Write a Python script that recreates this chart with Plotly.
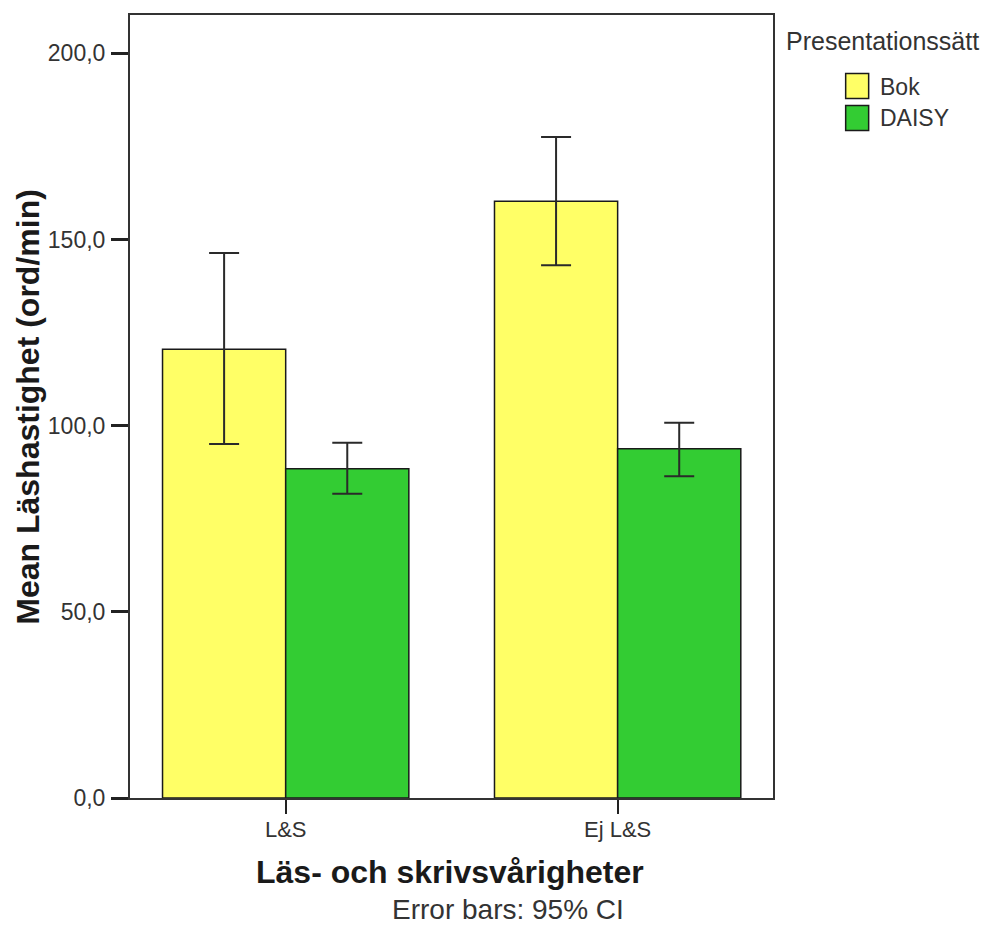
import plotly.graph_objects as go

categories = ["L&S", "Ej L&S"]
series_names = ["Bok", "DAISY"]
bok_mean = [120.5, 160.3]
bok_upper = [146.4, 177.5]
bok_lower = [95.1, 143.1]
daisy_mean = [88.4, 93.8]
daisy_upper = [95.4, 100.8]
daisy_lower = [81.7, 86.4]
y_ticks = [0, 50, 100, 150, 200]

colors = ["#FFFF66", "#33CC33"]
W, H = 1000, 930
OFF = 8  # page body margin in the screenshot
# plot area in screen pixels
L, R, T, B = 130, 773.3, 13.3, 798.3
pw, ph = R - L, B - T


def px(x):
    return (x - L) / pw


def py(y):
    return (B - y) / ph


pos = list(range(len(categories)))
fig = go.Figure()
for name, mean, up, lo, col in [
    (series_names[0], bok_mean, bok_upper, bok_lower, colors[0]),
    (series_names[1], daisy_mean, daisy_upper, daisy_lower, colors[1]),
]:
    fig.add_trace(go.Bar(
        x=pos, y=mean, name=name, showlegend=False,
        marker=dict(color=col, line=dict(color="#1a1a1a", width=1.5)),
        error_y=dict(type="data", symmetric=False,
                     array=[u - m for u, m in zip(up, mean)],
                     arrayminus=[m - l for m, l in zip(mean, lo)],
                     color="#2a2a2a", thickness=2, width=15),
    ))

font_family = "Liberation Sans, Arial, sans-serif"
fig.update_layout(
    width=W, height=H,
    margin=dict(l=L - OFF, r=W - (R - OFF), t=T - OFF, b=H - (B - OFF), pad=0),
    paper_bgcolor="white", plot_bgcolor="white",
    barmode="group", bargap=0.258, bargroupgap=0,
    separators=",.",
    font=dict(family=font_family, color="#222222"),
    showlegend=False,
    xaxis=dict(
        range=[-0.469, 1.468], tickvals=pos, ticktext=categories,
        showgrid=False, zeroline=False,
        showline=True, mirror=True, linecolor="#333333", linewidth=2,
        ticks="outside", ticklen=14, tickwidth=2, tickcolor="#222222",
        tickfont=dict(size=22, color="#333333"), ticklabelstandoff=-3,
    ),
    yaxis=dict(
        range=[0, 210.3], tickvals=y_ticks, tickformat=".1f",
        showgrid=False, zeroline=False,
        showline=True, mirror=True, linecolor="#333333", linewidth=2,
        ticks="outside", ticklen=17, tickwidth=3, tickcolor="#222222",
        tickfont=dict(size=23, color="#333333"), ticklabelstandoff=1,
    ),
)

# axis titles
fig.add_annotation(x=px(450), y=py(872), xref="paper", yref="paper",
                   text="<b>Läs- och skrivsvårigheter</b>", showarrow=False,
                   xanchor="center", yanchor="middle",
                   font=dict(size=32, color="#1a1a1a"))
fig.add_annotation(x=px(28), y=py(406), xref="paper", yref="paper",
                   text="<b>Mean Läshastighet (ord/min)</b>", showarrow=False,
                   textangle=-90, xanchor="center", yanchor="middle",
                   font=dict(size=32, color="#1a1a1a"))

# legend
fig.add_annotation(x=px(784), y=py(39), xref="paper", yref="paper",
                   text="Presentationssätt", showarrow=False,
                   xanchor="left", yanchor="middle",
                   font=dict(size=25, color="#333333"))
for i, (name, col) in enumerate(zip(series_names, colors)):
    top = 72 + i * 32
    fig.add_shape(type="rect", xref="paper", yref="paper",
                  x0=px(846), x1=px(869), y0=py(top + 25), y1=py(top),
                  fillcolor=col, line=dict(color="#1a1a1a", width=1.5))
    fig.add_annotation(x=px(878), y=py(top + 13), xref="paper", yref="paper",
                       text=name, showarrow=False, xanchor="left",
                       yanchor="middle", font=dict(size=23, color="#333333"))

fig.add_annotation(x=px(508), y=py(910), xref="paper", yref="paper",
                   text="Error bars: 95% CI", showarrow=False,
                   xanchor="center", yanchor="middle",
                   font=dict(size=28, color="#333333"))

fig.write_html("out.html")
